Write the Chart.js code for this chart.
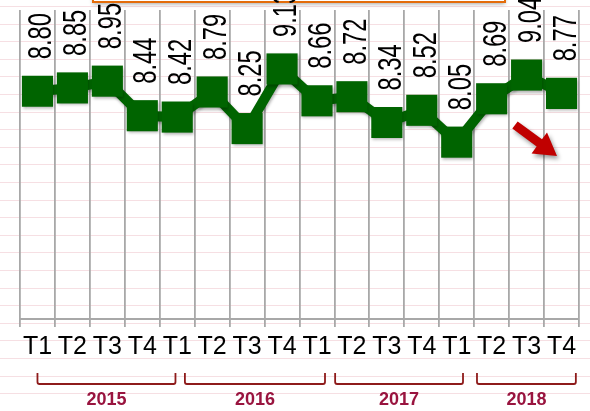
<!DOCTYPE html>
<html>
<head>
<meta charset="utf-8">
<script src="https://cdn.jsdelivr.net/npm/chart.js@4.4.1/dist/chart.umd.min.js"></script>
<style>
  html, body { margin: 0; padding: 0; background: #ffffff; }
  #wrap { width: 590px; height: 411px; }
</style>
</head>
<body>
<div id="wrap"><canvas id="chart" width="590" height="411"></canvas></div>
<script>
// quarters along the x axis
const quarters = ['T1', 'T2', 'T3', 'T4', 'T1', 'T2', 'T3', 'T4', 'T1', 'T2', 'T3', 'T4', 'T1', 'T2', 'T3', 'T4'];
// score per quarter
const scores = [8.80, 8.85, 8.95, 8.44, 8.42, 8.79, 8.25, 9.13, 8.66, 8.72, 8.34, 8.52, 8.05, 8.69, 9.04, 8.77];
// year groups under the axis
const years = ['2015', '2016', '2017', '2018'];

// bracket spans in category index units (layout only)
const yearSpans = [[0.0, 3.95], [4.22, 8.23], [8.52, 12.18], [12.58, 15.41]];

const green = '#006400';

// notebook-paper background lines + the top callout edge
const paperPlugin = {
  id: 'paper',
  beforeDraw(chart) {
    const ctx = chart.ctx;
    ctx.save();
    ctx.fillStyle = '#ffffff';
    ctx.fillRect(0, 0, chart.width, chart.height);
    ctx.strokeStyle = '#f6dfe3';
    ctx.lineWidth = 1;
    for (let y = 6; y < chart.height; y += 17.6) {
      ctx.beginPath();
      ctx.moveTo(0, Math.round(y) + 0.5);
      ctx.lineTo(chart.width, Math.round(y) + 0.5);
      ctx.stroke();
    }
    ctx.restore();
  },
  beforeDatasetsDraw(chart) {
    const ctx = chart.ctx;
    // bottom edge of an orange box cut off at the top of the picture
    ctx.save();
    ctx.shadowColor = 'rgba(0,0,0,0.35)';
    ctx.shadowBlur = 4;
    ctx.shadowOffsetY = 2;
    ctx.fillStyle = '#ffffff';
    ctx.strokeStyle = '#e46c0a';
    ctx.lineWidth = 2;
    ctx.beginPath();
    ctx.rect(93, -30, 412, 32);
    ctx.fill();
    ctx.shadowColor = 'transparent';
    ctx.stroke();
    ctx.restore();

    // soft shadow under the line
    ctx.save();
    ctx.shadowColor = 'rgba(0,0,0,0.3)';
    ctx.shadowBlur = 3;
    ctx.shadowOffsetX = 1;
    ctx.shadowOffsetY = 2;
  },
  afterDatasetsDraw(chart) {
    const ctx = chart.ctx;
    ctx.restore();

    // rotated value labels above each point
    const meta = chart.getDatasetMeta(0);
    ctx.save();
    ctx.fillStyle = '#000000';
    ctx.font = '33px "Liberation Sans", Arial, sans-serif';
    ctx.textAlign = 'left';
    ctx.textBaseline = 'alphabetic';
    meta.data.forEach((pt, i) => {
      ctx.save();
      ctx.translate(pt.x + 14, pt.y - 32);
      ctx.rotate(-Math.PI / 2);
      ctx.scale(0.72, 1);
      ctx.fillText(scores[i].toFixed(2), 0, 0);
      ctx.restore();
    });
    ctx.restore();

    // red trend arrow
    ctx.save();
    ctx.shadowColor = 'rgba(0,0,0,0.4)';
    ctx.shadowBlur = 4;
    ctx.shadowOffsetX = 2;
    ctx.shadowOffsetY = 3;
    ctx.fillStyle = '#c00000';
    const tail = [515, 125], tip = [557, 156];
    const len = Math.hypot(tip[0] - tail[0], tip[1] - tail[1]);
    const d = [(tip[0] - tail[0]) / len, (tip[1] - tail[1]) / len];
    const n = [-d[1], d[0]];
    const b = [tip[0] - 22 * d[0], tip[1] - 22 * d[1]];
    const pts = [
      [tail[0] + 4.5 * n[0], tail[1] + 4.5 * n[1]],
      [b[0] + 4.5 * n[0], b[1] + 4.5 * n[1]],
      [b[0] + 13 * n[0], b[1] + 13 * n[1]],
      tip,
      [b[0] - 13 * n[0], b[1] - 13 * n[1]],
      [b[0] - 4.5 * n[0], b[1] - 4.5 * n[1]],
      [tail[0] - 4.5 * n[0], tail[1] - 4.5 * n[1]]
    ];
    ctx.beginPath();
    pts.forEach((p, i) => (i ? ctx.lineTo(p[0], p[1]) : ctx.moveTo(p[0], p[1])));
    ctx.closePath();
    ctx.fill();
    ctx.restore();
  },
  afterDraw(chart) {
    // year brackets below the quarter labels
    const ctx = chart.ctx;
    const x = chart.scales.x;
    ctx.save();
    ctx.strokeStyle = '#8e1b1b';
    ctx.lineWidth = 1.8;
    ctx.fillStyle = '#99143f';
    ctx.font = 'bold 18px "Liberation Sans", Arial, sans-serif';
    ctx.textAlign = 'center';
    ctx.textBaseline = 'middle';
    years.forEach((yr, i) => {
      const x0 = x.getPixelForValue(yearSpans[i][0]);
      const x1 = x.getPixelForValue(yearSpans[i][1]);
      ctx.beginPath();
      ctx.moveTo(x0, 373);
      ctx.lineTo(x0, 382);
      ctx.quadraticCurveTo(x0, 384, x0 + 2, 384);
      ctx.lineTo(x1 - 2, 384);
      ctx.quadraticCurveTo(x1, 384, x1, 382);
      ctx.lineTo(x1, 373);
      ctx.stroke();
      ctx.fillText(yr, (x0 + x1) / 2, 400);
    });
    ctx.restore();
  }
};

new Chart(document.getElementById('chart'), {
  type: 'line',
  data: {
    labels: quarters,
    datasets: [{
      data: scores,
      borderColor: green,
      backgroundColor: green,
      borderWidth: 10,
      tension: 0,
      pointStyle: 'rect',
      pointRadius: 22,
      pointBorderWidth: 0,
      pointBackgroundColor: green,
      clip: false
    }]
  },
  options: {
    responsive: false,
    animation: false,
    layout: { autoPadding: false, padding: { left: 20, right: 11, top: 10, bottom: 0 } },
    plugins: {
      legend: { display: false },
      tooltip: { enabled: false }
    },
    scales: {
      x: {
        offset: true,
        grid: { offset: true, color: '#a8a8a8', lineWidth: 1.8, tickLength: 8 },
        border: { color: '#a8a8a8', width: 2 },
        ticks: {
          autoSkip: false,
          maxRotation: 0,
          minRotation: 0,
          padding: 5,
          color: '#000000',
          font: { family: '"Liberation Sans", Arial, sans-serif', size: 25 }
        },
        afterFit(scale) {
          scale.height = 92;
          scale.paddingLeft = 0;
          scale.paddingRight = 0;
        }
      },
      y: {
        display: false,
        min: 5.44,
        max: 10
      }
    }
  },
  plugins: [paperPlugin]
});
</script>
</body>
</html>
